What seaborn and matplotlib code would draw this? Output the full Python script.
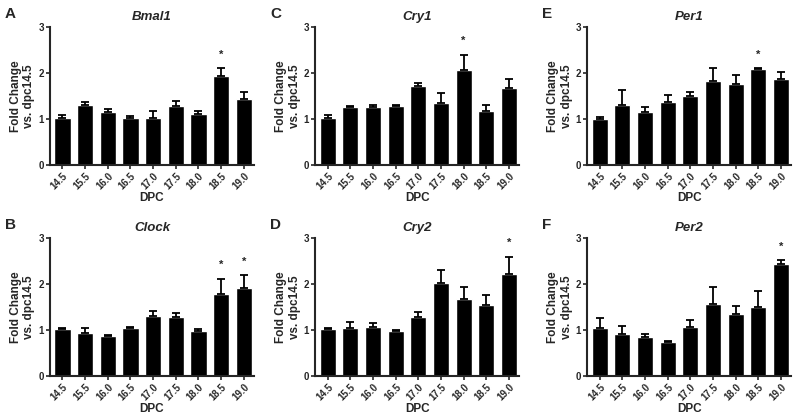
"""Fold change of clock genes across embryonic days, six panels."""

import matplotlib
matplotlib.use('Agg')
import matplotlib.pyplot as plt
import seaborn as sns

dpc = ['14.5', '15.5', '16.0', '16.5', '17.0', '17.5', '18.0', '18.5', '19.0']

# mean fold change and upper SEM per gene
bmal1 = [1.02, 1.30, 1.15, 1.03, 1.02, 1.28, 1.10, 1.93, 1.43]
bmal1_err = [0.07, 0.06, 0.06, 0.03, 0.15, 0.12, 0.08, 0.17, 0.15]
clock = [1.02, 0.93, 0.87, 1.04, 1.31, 1.28, 0.98, 1.78, 1.91]
clock_err = [0.03, 0.12, 0.02, 0.03, 0.10, 0.08, 0.03, 0.33, 0.27]
cry1 = [1.02, 1.27, 1.27, 1.28, 1.72, 1.35, 2.07, 1.18, 1.67]
cry1_err = [0.06, 0.02, 0.03, 0.03, 0.07, 0.22, 0.32, 0.12, 0.20]
cry2 = [1.02, 1.03, 1.07, 0.98, 1.28, 2.01, 1.66, 1.55, 2.22]
cry2_err = [0.02, 0.13, 0.07, 0.02, 0.10, 0.28, 0.27, 0.21, 0.37]
per1 = [1.01, 1.30, 1.15, 1.37, 1.49, 1.82, 1.77, 2.08, 1.87]
per1_err = [0.03, 0.33, 0.10, 0.15, 0.10, 0.28, 0.18, 0.02, 0.14]
per2 = [1.05, 0.92, 0.85, 0.74, 1.07, 1.57, 1.34, 1.49, 2.42]
per2_err = [0.21, 0.17, 0.05, 0.02, 0.15, 0.37, 0.17, 0.35, 0.09]

# (letter, gene, means, errors, starred days, column, row)
panels = [
    ('A', 'Bmal1', bmal1, bmal1_err, ['18.5'], 0, 0),
    ('B', 'Clock', clock, clock_err, ['18.5', '19.0'], 0, 1),
    ('C', 'Cry1', cry1, cry1_err, ['18.0'], 1, 0),
    ('D', 'Cry2', cry2, cry2_err, ['19.0'], 1, 1),
    ('E', 'Per1', per1, per1_err, ['18.5'], 2, 0),
    ('F', 'Per2', per2, per2_err, ['19.0'], 2, 1),
]

sns.set_style('ticks')
plt.rcParams['font.family'] = ['Liberation Sans', 'DejaVu Sans']
plt.rcParams['font.weight'] = 'bold'

fig = plt.figure(figsize=(8, 4.2), dpi=100)
lefts = [0.0625, 0.394, 0.734]
bottoms = [0.607, 0.105]
width, height = 0.255, 0.329

for letter, gene, means, errs, stars, col, row in panels:
    ax = fig.add_axes([lefts[col], bottoms[row], width, height])
    sns.barplot(x=dpc, y=means, color='black', width=0.72, saturation=1,
                errorbar=None, ax=ax)
    # upward-only error bars like GraphPad
    ax.errorbar(range(len(dpc)), means, yerr=[[0] * len(errs), errs],
                fmt='none', ecolor='black', elinewidth=1.3, capsize=3,
                capthick=1.3)
    for day in stars:
        i = dpc.index(day)
        ax.text(i, means[i] + errs[i] + 0.3, '*', ha='center', va='center',
                fontsize=8)
    ax.set_ylim(0, 3)
    ax.set_xlim(-0.55, len(dpc) - 0.55)
    ax.set_yticks([0, 1, 2, 3])
    ax.set_yticklabels(['0', '1', '2', '3'], fontsize=7, fontweight='bold')
    ax.set_xticks(range(len(dpc)))
    ax.set_xticklabels(dpc, rotation=45, ha='right', rotation_mode='anchor',
                       fontsize=7, fontweight='bold')
    ax.tick_params(axis='both', length=3, width=1.2, pad=1.5)
    ax.set_xlabel('DPC', fontsize=8.5, fontweight='bold', labelpad=0)
    ax.set_ylabel('Fold Change\nvs. dpc14.5', fontsize=8.5,
                  fontweight='bold', labelpad=2)
    ax.set_title(gene, fontsize=9.5, fontweight='bold', style='italic', pad=5)
    sns.despine(ax=ax)
    for side in ['left', 'bottom']:
        ax.spines[side].set_linewidth(1.5)
    ax.text(-0.22, 1.09, letter, transform=ax.transAxes, fontsize=11,
            fontweight='bold', ha='left', va='center')

fig.savefig('out.png', dpi=100)
